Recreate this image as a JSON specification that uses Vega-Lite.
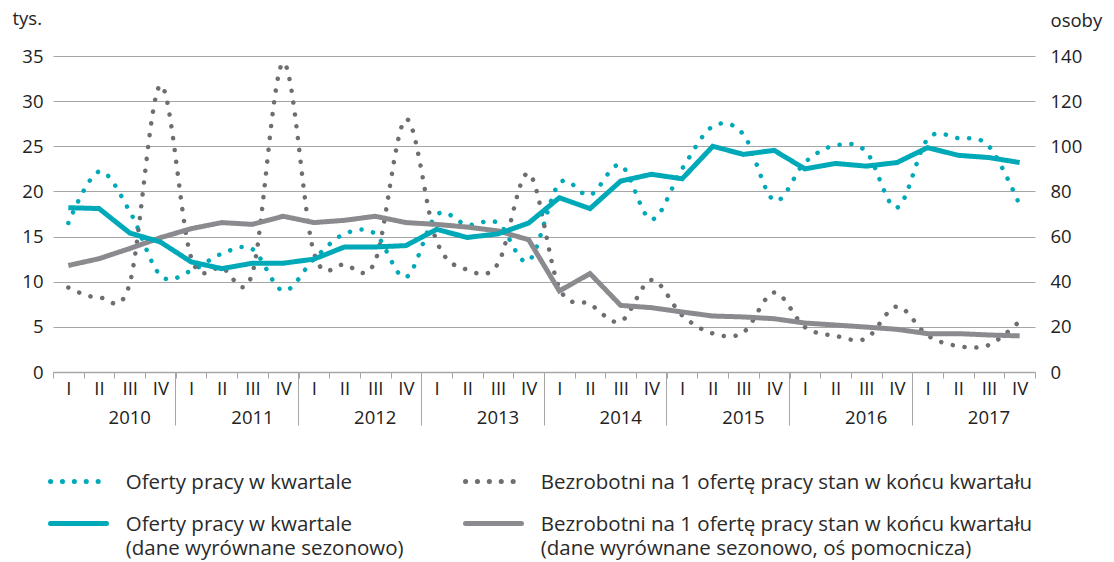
{
  "$schema": "https://vega.github.io/schema/vega-lite/v6.json",
  "autosize": "none",
  "width": 982,
  "height": 316,
  "padding": {"left": 53, "top": 56, "right": 79, "bottom": 190},
  "background": "white",
  "config": {
    "font": "Open Sans",
    "view": {"stroke": null},
    "axis": {"labelFont": "Open Sans", "titleFont": "Open Sans", "labelColor": "#222222", "titleColor": "#222222", "labelFontSize": 18.5, "titleFontSize": 18.5, "titleFontWeight": "normal"}
  },
  "data": {
    "values": [
      {"kw": "2010-I", "oferty": 16.5, "oferty_sa": 18.2, "bezrobotni": 37.4, "bezrobotni_sa": 47.2},
      {"kw": "2010-II", "oferty": 22.2, "oferty_sa": 18.1, "bezrobotni": 33.0, "bezrobotni_sa": 50.2},
      {"kw": "2010-III", "oferty": 17.8, "oferty_sa": 15.4, "bezrobotni": 39.2, "bezrobotni_sa": 54.7},
      {"kw": "2010-IV", "oferty": 10.7, "oferty_sa": 14.4, "bezrobotni": 127.0, "bezrobotni_sa": 59.5},
      {"kw": "2011-I", "oferty": 11.2, "oferty_sa": 12.2, "bezrobotni": 50.8, "bezrobotni_sa": 63.5},
      {"kw": "2011-II", "oferty": 13.1, "oferty_sa": 11.45, "bezrobotni": 46.2, "bezrobotni_sa": 66.2},
      {"kw": "2011-III", "oferty": 13.6, "oferty_sa": 12.05, "bezrobotni": 43.9, "bezrobotni_sa": 65.4},
      {"kw": "2011-IV", "oferty": 9.0, "oferty_sa": 12.05, "bezrobotni": 137.0, "bezrobotni_sa": 69.0},
      {"kw": "2012-I", "oferty": 12.5, "oferty_sa": 12.5, "bezrobotni": 53.0, "bezrobotni_sa": 66.2},
      {"kw": "2012-II", "oferty": 15.3, "oferty_sa": 13.85, "bezrobotni": 47.6, "bezrobotni_sa": 67.2},
      {"kw": "2012-III", "oferty": 15.3, "oferty_sa": 13.85, "bezrobotni": 49.2, "bezrobotni_sa": 69.0},
      {"kw": "2012-IV", "oferty": 10.5, "oferty_sa": 14.0, "bezrobotni": 112.0, "bezrobotni_sa": 66.2},
      {"kw": "2013-I", "oferty": 17.4, "oferty_sa": 15.8, "bezrobotni": 58.0, "bezrobotni_sa": 65.4},
      {"kw": "2013-II", "oferty": 16.3, "oferty_sa": 14.9, "bezrobotni": 45.3, "bezrobotni_sa": 64.2},
      {"kw": "2013-III", "oferty": 16.5, "oferty_sa": 15.3, "bezrobotni": 48.0, "bezrobotni_sa": 62.5},
      {"kw": "2013-IV", "oferty": 12.3, "oferty_sa": 16.5, "bezrobotni": 88.0, "bezrobotni_sa": 58.6},
      {"kw": "2014-I", "oferty": 20.9, "oferty_sa": 19.3, "bezrobotni": 37.2, "bezrobotni_sa": 35.9},
      {"kw": "2014-II", "oferty": 19.6, "oferty_sa": 18.1, "bezrobotni": 30.0, "bezrobotni_sa": 43.6},
      {"kw": "2014-III", "oferty": 22.9, "oferty_sa": 21.15, "bezrobotni": 22.4, "bezrobotni_sa": 29.5},
      {"kw": "2014-IV", "oferty": 16.9, "oferty_sa": 21.9, "bezrobotni": 40.8, "bezrobotni_sa": 28.5},
      {"kw": "2015-I", "oferty": 22.5, "oferty_sa": 21.4, "bezrobotni": 25.1, "bezrobotni_sa": 26.6},
      {"kw": "2015-II", "oferty": 27.2, "oferty_sa": 25.0, "bezrobotni": 17.1, "bezrobotni_sa": 24.8},
      {"kw": "2015-III", "oferty": 26.3, "oferty_sa": 24.1, "bezrobotni": 17.6, "bezrobotni_sa": 24.4},
      {"kw": "2015-IV", "oferty": 19.0, "oferty_sa": 24.55, "bezrobotni": 35.2, "bezrobotni_sa": 23.6},
      {"kw": "2016-I", "oferty": 23.2, "oferty_sa": 22.5, "bezrobotni": 19.9, "bezrobotni_sa": 21.7},
      {"kw": "2016-II", "oferty": 25.1, "oferty_sa": 23.1, "bezrobotni": 16.0, "bezrobotni_sa": 20.8},
      {"kw": "2016-III", "oferty": 24.4, "oferty_sa": 22.8, "bezrobotni": 14.9, "bezrobotni_sa": 19.9},
      {"kw": "2016-IV", "oferty": 18.2, "oferty_sa": 23.2, "bezrobotni": 29.0, "bezrobotni_sa": 18.9},
      {"kw": "2017-I", "oferty": 25.8, "oferty_sa": 24.85, "bezrobotni": 16.2, "bezrobotni_sa": 17.0},
      {"kw": "2017-II", "oferty": 25.9, "oferty_sa": 24.0, "bezrobotni": 11.5, "bezrobotni_sa": 17.0},
      {"kw": "2017-III", "oferty": 25.0, "oferty_sa": 23.75, "bezrobotni": 12.0, "bezrobotni_sa": 16.4},
      {"kw": "2017-IV", "oferty": 18.5, "oferty_sa": 23.2, "bezrobotni": 22.5, "bezrobotni_sa": 16.0}
    ]
  },
  "transform": [
    {"fold": ["oferty", "bezrobotni", "oferty_sa", "bezrobotni_sa"], "as": ["seria", "wartosc"]}
  ],
  "encoding": {
    "x": {
      "field": "kw", "type": "nominal", "sort": null,
      "scale": {"type": "band", "paddingInner": 0, "paddingOuter": 0,
        "domain": ["2010-I","2010-II","2010-III","2010-IV","2011-I","2011-II","2011-III","2011-IV","2012-I","2012-II","2012-III","2012-IV","2013-I","2013-II","2013-III","2013-IV","2014-I","2014-II","2014-III","2014-IV","2015-I","2015-II","2015-III","2015-IV","2016-I","2016-II","2016-III","2016-IV","2017-I","2017-II","2017-III","2017-IV"]}
    },
    "color": {
      "field": "seria", "type": "nominal",
      "scale": {"domain": ["oferty", "oferty_sa", "bezrobotni", "bezrobotni_sa"], "range": ["#00a9b8", "#00a9b8", "#6d6e72", "#8b8b8f"]},
      "legend": {
        "orient": "none", "legendX": -5, "legendY": 395, "columns": 2, "title": null,
        "symbolType": "stroke", "symbolSize": 3136, "symbolStrokeWidth": 5,
        "labelFont": "Open Sans", "labelFontSize": 20.5, "labelColor": "#2a2a2a", "labelOffset": 16.7, "labelLimit": 0,
        "columnPadding": 51, "rowPadding": -14, "labelBaseline": "alphabetic",
        "labelExpr": "datum.label == 'oferty' ? 'Oferty pracy w kwartale' : datum.label == 'bezrobotni' ? 'Bezrobotni na 1 ofertę pracy stan w końcu kwartału' : datum.label == 'oferty_sa' ? ['Oferty pracy w kwartale', '(dane wyrównane sezonowo)'] : ['Bezrobotni na 1 ofertę pracy stan w końcu kwartału', '(dane wyrównane sezonowo, oś pomocnicza)']",
        "encode": {"labels": {"update": {"dy": {"value": 7}, "lineHeight": {"value": 24.3}}}, "symbols": {"update": {"strokeCap": {"value": "round"}}}}
      }
    },
    "strokeDash": {
      "field": "seria", "type": "nominal",
      "scale": {"domain": ["oferty", "oferty_sa", "bezrobotni", "bezrobotni_sa"], "range": [[0.1, 11.8], [1, 0], [0.1, 11.8], [1, 0]]}
    }
  },
  "layer": [
    {
      "transform": [{"filter": "datum.seria == 'oferty'"}],
      "mark": {"type": "line", "interpolate": "cardinal", "strokeWidth": 4.5, "strokeCap": "round"},
      "encoding": {
        "x": {"field": "kw", "type": "nominal", "sort": null,
          "axis": {"orient": "bottom", "title": null, "labelAngle": 0, "tickBand": "extent", "tickSize": 6, "tickColor": "#a6a6a6", "domainColor": "#a6a6a6", "domainWidth": 1.5, "labelPadding": 1,
            "labelExpr": "split(datum.value, '-')[1]"}},
        "y": {"field": "wartosc", "type": "quantitative", "scale": {"domain": [0, 35]},
          "axis": {"orient": "left", "values": [0, 5, 10, 15, 20, 25, 30, 35], "grid": true, "gridColor": "#a6a6a6", "gridWidth": 1, "domain": false, "ticks": false, "labelPadding": 10,
            "title": "tys.", "titleAngle": 0, "titleAlign": "left", "titleBaseline": "middle", "titleX": -41, "titleY": -38}}
      }
    },
    {
      "transform": [{"filter": "datum.seria == 'bezrobotni'"}],
      "mark": {"type": "line", "interpolate": "cardinal", "strokeWidth": 4.5, "strokeCap": "round"},
      "encoding": {
        "x": {"field": "kw", "type": "nominal", "sort": null,
          "axis": {"orient": "bottom", "title": null, "labelAngle": 0, "domain": false, "bandPosition": 0,
            "values": ["2010-I","2011-I","2012-I","2013-I","2014-I","2015-I","2016-I","2017-I"],
            "tickSize": 53, "tickColor": {"condition": {"test": "datum.value == '2010-I'", "value": "transparent"}, "value": "#a6a6a6"},
            "labelOffset": 61.4, "labelPadding": -17, "labelExpr": "split(datum.value, '-')[0]"}},
        "y": {"field": "wartosc", "type": "quantitative", "scale": {"domain": [0, 140]},
          "axis": {"orient": "right", "values": [0, 20, 40, 60, 80, 100, 120, 140], "grid": false, "domain": false, "ticks": false, "labelPadding": 15,
            "title": "osoby", "titleAngle": 0, "titleAlign": "left", "titleBaseline": "middle", "titleX": 15, "titleY": -36}}
      }
    },
    {
      "transform": [{"filter": "datum.seria == 'bezrobotni_sa'"}],
      "mark": {"type": "line", "strokeWidth": 5, "strokeCap": "butt"},
      "encoding": {
        "x": {"field": "kw", "type": "nominal", "sort": null, "axis": null},
        "y": {"field": "wartosc", "type": "quantitative", "scale": {"domain": [0, 140]}, "axis": null}
      }
    },
    {
      "transform": [{"filter": "datum.seria == 'oferty_sa'"}],
      "mark": {"type": "line", "strokeWidth": 5, "strokeCap": "butt"},
      "encoding": {
        "x": {"field": "kw", "type": "nominal", "sort": null, "axis": null},
        "y": {"field": "wartosc", "type": "quantitative", "scale": {"domain": [0, 35]}, "axis": null}
      }
    }
  ],
  "resolve": {"scale": {"y": "independent"}, "axis": {"x": "independent", "y": "independent"}}
}
